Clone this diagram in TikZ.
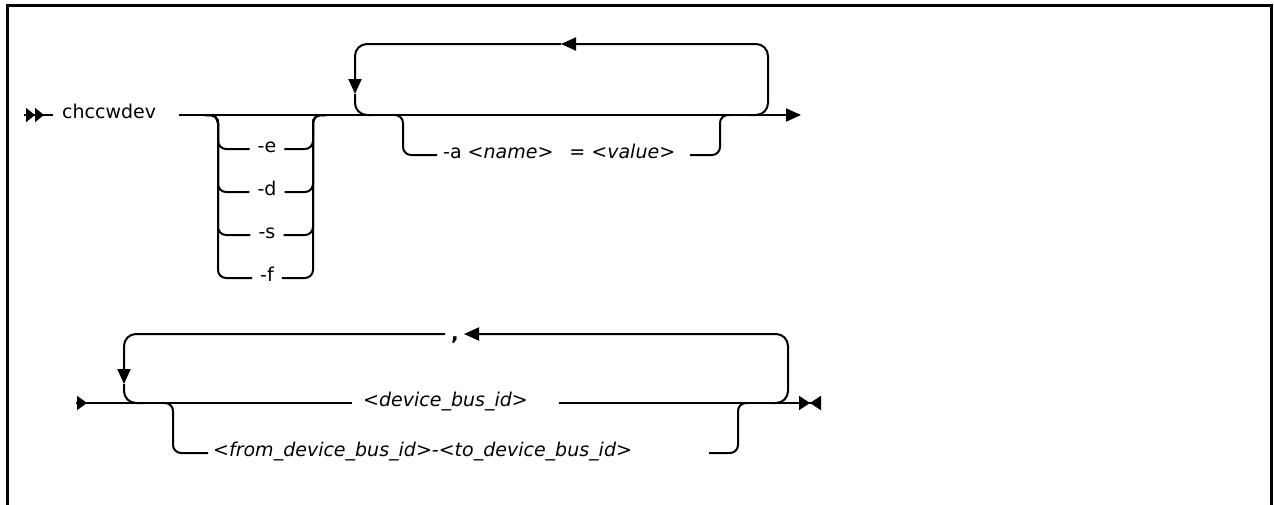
\documentclass[tikz,border=0pt]{standalone}
\usepackage{fontspec}
\setmainfont{DejaVu Sans}
\usetikzlibrary{arrows.meta,positioning}

\begin{document}
\begin{tikzpicture}[x=1pt,y=-1pt,
    rail/.style={line width=2pt, rounded corners=8pt},
    loop/.style={line width=2pt, rounded corners=12pt},
    tip/.style={-{Triangle[length=15pt,width=13pt]}},
    lbl/.style={font=\fontsize{19}{22}\selectfont, inner sep=0pt, anchor=mid west},
    opt/.style={font=\fontsize{19}{22}\selectfont, inner xsep=8pt, inner ysep=0pt, anchor=mid}]
  \useasboundingbox (0,0) rectangle (1274,504);
  \draw[line width=3pt] (7,506) -- (7,5) -- (1271,5) -- (1271,506);

  % first line
  \coordinate (s1) at (24,115);
  \node[lbl] (cmd) at (62,116) {chccwdev};
  \coordinate (m1) at (179,115);
  \coordinate (e1) at (801,115);
  \draw[line width=2pt, -{Triangle[length=9pt,width=14pt]Triangle[length=9pt,width=14pt]}] (s1) -- (44,115);
  \draw[line width=2pt] (42,115) -- (53,115);
  \draw[rail, tip] (m1) -- (e1);

  \foreach \o/\y in {e/149,d/192,s/235,f/278} {
    \node[opt] (o\o) at (267,\y+1) {-\o};
    \draw[rail] (205,115) -| (218,\y) -- (o\o.mid west |- 0,\y);
    \draw[rail] (o\o.mid east |- 0,\y) -| (313,115) -- (326,115);
  }

  \coordinate (lt) at (561,44);
  \coordinate (ld) at (355,94);
  \draw[loop, tip] (750,115) -| (768,44) -- (lt);
  \draw[loop, tip] (lt) -| (ld);
  \draw[loop] (ld) |- (373,115);

  \node[lbl] (aopt) at (443,156) {-a \textit{<name>}\hspace{16pt}= \textit{<value>}};
  \coordinate (aend) at (690,155);
  \draw[rail] (394,115) -| (403,155) -- (437,155);
  \draw[rail] (aend) -| (720,115) -- (730,115);

  % second line
  \coordinate (s2) at (76,403);
  \node[lbl] (dev) at (363,404) {\textit{<device\_bus\_id>}};
  \coordinate (devend) at (559,403);
  \coordinate (e2) at (821,403);
  \draw[line width=2pt, -{Triangle[length=10pt,width=14pt]}] (s2) -- (87,403);
  \draw[line width=2pt] (85,403) -- (352,403);
  \draw[rail, -{Triangle[length=11pt,width=14pt]Triangle[reversed,length=11pt,width=14pt]}] (devend) -- (e2);

  \node[font=\fontsize{20}{22}\selectfont\bfseries, inner sep=0pt, anchor=base] (comma) at (455,340) {,};
  \coordinate (cl) at (445,334);
  \coordinate (rt) at (464,334);
  \coordinate (rd) at (124,384);
  \draw[loop, tip] (772,403) -| (788,334) -- (rt);
  \draw[loop, tip] (cl) -| (rd);
  \draw[loop] (rd) |- (143,403);

  \node[lbl] (rng) at (213,454) {\textit{<from\_device\_bus\_id>-<to\_device\_bus\_id>}};
  \coordinate (rngend) at (709,453);
  \draw[rail] (164,403) -| (173,453) -- (208,453);
  \draw[rail] (rngend) -| (738,403) -- (748,403);
\end{tikzpicture}
\end{document}
